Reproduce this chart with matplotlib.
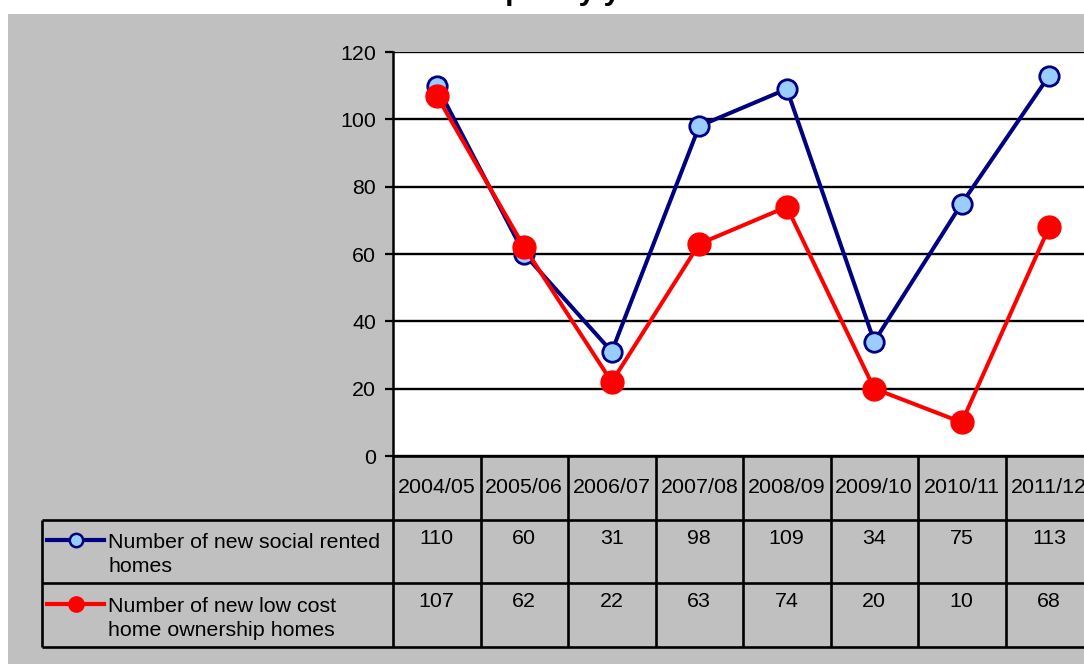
import matplotlib
matplotlib.use("Agg")
import matplotlib.pyplot as plt
from matplotlib.patches import Rectangle
from matplotlib.lines import Line2D
import numpy as np

plt.rcParams['font.family'] = ['Liberation Sans', 'DejaVu Sans']

# data
years = ['2004/05', '2005/06', '2006/07', '2007/08', '2008/09', '2009/10', '2010/11', '2011/12']
social_rented = [110, 60, 31, 98, 109, 34, 75, 113]
low_cost = [107, 62, 22, 63, 74, 20, 10, 68]
series_names = ['Number of new social rented\nhomes',
                'Number of new low cost\nhome ownership homes']
title = 'Affordable Homes Output by year'

W, H = 1084, 664
GREY = '#C0C0C0'
NAVY = '#000080'
RED = '#FF0000'
FS = 15.4


def fx(p):
    return p / W


def fy(p):
    return 1 - p / H


# plot area spans pixel columns 393..1093, 8 columns of equal width
col_w = (1093 - 393) / len(years)


def px2x(p):
    return -0.5 + (p - 393) / col_w


fig = plt.figure(figsize=(W / 100, H / 100), dpi=100)
fig.patch.set_facecolor('white')
fig.patches.append(Rectangle((fx(8), 0), 1 - fx(8), fy(14), transform=fig.transFigure,
                             facecolor=GREY, edgecolor='none', zorder=-1))

fig.text(fx(187), 1.0, title, ha='left', va='baseline', fontsize=21.6, fontweight='bold')

# --- line chart ---
ax = fig.add_axes([fx(393), fy(456), (1093 - 393) / W, (456 - 52) / H])
ax.set_facecolor('white')
x = np.arange(len(years))
ax.plot(x, social_rented, color=NAVY, lw=2.9, marker='o', ms=14,
        mfc='#99CCFF', mec=NAVY, mew=2.0, zorder=3, clip_on=False)
ax.plot(x, low_cost, color=RED, lw=2.9, marker='o', ms=16.5,
        mfc=RED, mec=RED, zorder=4, clip_on=False)
ax.set_xlim(-0.5, len(years) - 0.5)
ax.set_ylim(0, 120)
ax.set_yticks(range(0, 121, 20))
ax.set_xticks([])
ax.tick_params(axis='y', length=6, width=1.6, pad=6, labelsize=FS, colors='black')
ax.yaxis.grid(True, color='black', lw=1.7)
ax.set_axisbelow(True)
for side in ['top', 'right', 'bottom']:
    ax.spines[side].set_visible(False)
ax.spines['left'].set_linewidth(1.8)

# --- data table below the chart ---
tab = fig.add_axes([fx(42), fy(647), (1093 - 42) / W, (647 - 456) / H])
tab.set_xlim(px2x(42), len(years) - 0.5)
tab.set_ylim(3, 0)
tab.axis('off')

lkw = dict(color='black', lw=1.9, clip_on=False)
tab.hlines(0, -0.5, len(years) - 0.5, **lkw)
tab.hlines([1, 2, 3], px2x(42), len(years) - 0.5, **lkw)
tab.vlines(np.arange(len(years) + 1) - 0.5, 0, 3, **lkw)
tab.vlines(px2x(42), 1, 3, **lkw)

for i, yr in enumerate(years):
    tab.text(i, 0.5, yr, ha='center', va='center', fontsize=FS)
    tab.text(i, 1.30, str(social_rented[i]), ha='center', va='center', fontsize=FS)
    tab.text(i, 2.28, str(low_cost[i]), ha='center', va='center', fontsize=FS)

# legend keys inside the table
styles = [dict(color=NAVY, mfc='#99CCFF', mec=NAVY, ms=9.6, mew=1.8),
          dict(color=RED, mfc=RED, mec=RED, ms=11, mew=1)]
for row, (name, st) in enumerate(zip(series_names, styles), start=1):
    ky = row + 0.32
    tab.add_line(Line2D([px2x(47), px2x(104)], [ky, ky], color=st['color'], lw=3.0))
    tab.add_line(Line2D([px2x(76)], [ky], marker='o', ms=st['ms'], mfc=st['mfc'],
                        mec=st['mec'], mew=st['mew'], lw=0))
    tab.text(px2x(108), row + 0.55, name, ha='left', va='center', fontsize=FS,
             linespacing=1.35)

fig.savefig('out.png', dpi=100)
